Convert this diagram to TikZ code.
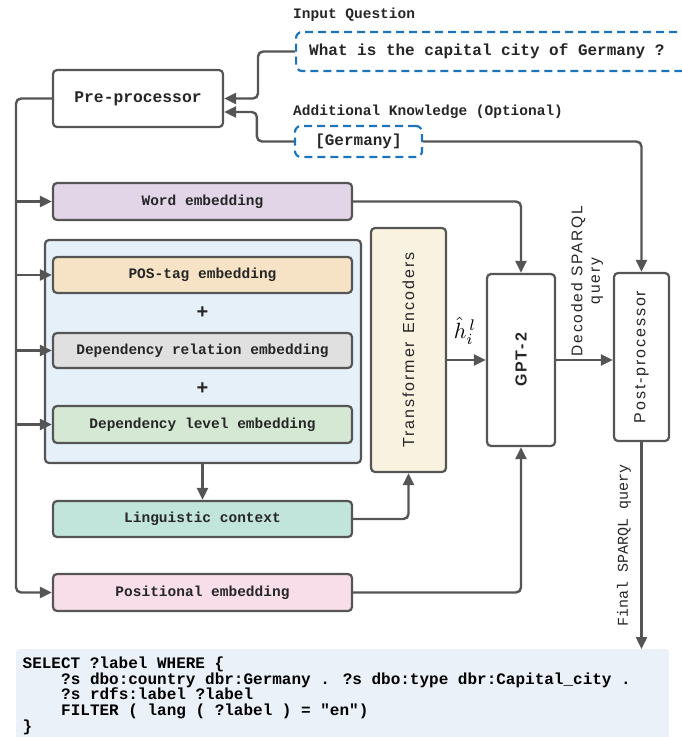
\documentclass[tikz,border=0pt]{standalone}
\usepackage{fontspec}
\usepackage{graphicx}
\setmainfont{Liberation Sans}
\newfontfamily\mono{Liberation Mono}
\newfontfamily\sansls[LetterSpace=12]{Liberation Sans}
\usetikzlibrary{arrows.meta}
\definecolor{ln}{HTML}{555555}
\definecolor{dblue}{HTML}{1C75BC}
\definecolor{wordc}{HTML}{E1D5E7}
\definecolor{posc}{HTML}{F6E3C6}
\definecolor{relc}{HTML}{E0E0E0}
\definecolor{levc}{HTML}{D5E8D4}
\definecolor{lingc}{HTML}{C2E5DB}
\definecolor{pembc}{HTML}{F8DEE8}
\definecolor{contc}{HTML}{E6F0F9}
\definecolor{transc}{HTML}{FAF2E1}
\definecolor{codec}{HTML}{EAF1F8}
\tikzset{
  boxst/.style={draw=ln, line width=2.2pt, rounded corners=4pt, inner sep=0pt, fill=white,
    font=\mono\bfseries\fontsize{14.5}{16}\selectfont, text=black!85},
  dashbox/.style={draw=dblue, line width=2.2pt, rounded corners=6pt, inner sep=0pt,
    dash pattern=on 8pt off 5pt},
  conn/.style={draw=ln, line width=2.4pt, rounded corners=5pt,
    -{Triangle[length=12pt,width=11pt]}},
  monolab/.style={font=\mono\bfseries\fontsize{14.5}{16}\selectfont, text=black!85, inner sep=0pt},
  rotlab/.style={rotate=90, inner sep=0pt, text=black!85, font=\sansls\fontsize{16}{17}\selectfont},
  codeln/.style={anchor=base west, inner sep=0pt, font=\mono\bfseries\fontsize{16}{16}\selectfont}
}
\begin{document}
\begin{tikzpicture}[x=1pt,y=-1pt]
\useasboundingbox (0,0) rectangle (681,737);

% top inputs
\node[monolab, anchor=west] (iqlab) at (293,15) {Input Question};
\node[dashbox, minimum width=400pt, minimum height=39pt, anchor=west] (inq) at (295,51.5) {};
\node[monolab, anchor=west, font=\mono\bfseries\fontsize{16}{18}\selectfont] (inqt) at (309,51.5) {What is the capital city of Germany ?};
\node[monolab, anchor=west] (aklab) at (293,112) {Additional Knowledge (Optional)};
\node[dashbox, minimum width=127pt, minimum height=31pt, font=\mono\bfseries\fontsize{16}{18}\selectfont, text=black!85] (germ) at (358.5,141.5) {[Germany]};

% pre-processor
\node[boxst, minimum width=170pt, minimum height=57pt, font=\mono\bfseries\fontsize{16.3}{18}\selectfont] (pre) at (138,98.5) {Pre-processor};

% embeddings
\node[boxst, fill=wordc, minimum width=299pt, minimum height=37pt] (word) at (202.5,201.5) {Word embedding};
\node[boxst, fill=contc, minimum width=316pt, minimum height=223pt] (cont) at (203,351.5) {};
\node[boxst, fill=posc, minimum width=299pt, minimum height=36pt] (pos) at (202.5,275) {POS-tag embedding};
\node[font=\bfseries\fontsize{20}{20}\selectfont, text=black!85, inner sep=0pt] (plus1) at (202.5,313) {+};
\node[boxst, fill=relc, minimum width=299pt, minimum height=35pt] (rel) at (202.5,350.5) {Dependency relation embedding};
\node[font=\bfseries\fontsize{20}{20}\selectfont, text=black!85, inner sep=0pt] (plus2) at (202.5,389) {+};
\node[boxst, fill=levc, minimum width=299pt, minimum height=37pt] (lev) at (202.5,424.5) {Dependency level embedding};
\node[boxst, fill=lingc, minimum width=299pt, minimum height=36pt] (ling) at (202.5,519) {Linguistic context};
\node[boxst, fill=pembc, minimum width=299pt, minimum height=37pt] (pemb) at (202.5,592.5) {Positional embedding};

% transformer, gpt, post
\node[boxst, fill=transc, minimum width=75pt, minimum height=244pt] (trans) at (408.5,350) {};
\node[rotlab] (transt) at (trans.center) {Transformer\hspace{8pt}Encoders};
\node[boxst, minimum width=68pt, minimum height=172pt] (gpt) at (521,360) {};
\node[rotlab, font=\sansls\bfseries\fontsize{16}{17}\selectfont] (gptt) at (gpt.center) {GPT-2};
\node[boxst, minimum width=55pt, minimum height=168pt] (post) at (641.5,357) {};
\node[rotlab] (postt) at (post.center) {Post-processor};

% code block
\node[fill=codec, anchor=north west, minimum width=653pt, minimum height=100pt, inner sep=0pt, rounded corners=3pt] (code) at (16,649) {};
\node[codeln] (c1) at (22.5,668.3) {SELECT ?label WHERE \{};
\node[codeln] (c2) at (61,684) {?s dbo:country dbr:Germany . ?s dbo:type dbr:Capital\_city .};
\node[codeln] (c3) at (61,699.5) {?s rdfs:label ?label};
\node[codeln] (c4) at (61,715.5) {FILTER ( lang ( ?label ) = "en")};
\node[codeln] (c5) at (22.5,731) {\}};

% labels
\node[inner sep=0pt] (hl) at (465,331) {\scalebox{2.2}{$\hat{h}_{i}^{\,l}$}};
\node[rotlab, align=center, font=\sansls\fontsize{15.5}{17.5}\selectfont] (dec) at (587,281) {Decoded\hspace{6pt}SPARQL\\query};
\node[rotlab, font=\mono\fontsize{15}{16}\selectfont] (fin) at (624,545) {Final\hspace{9pt}SPARQL\hspace{9pt}query};

% connectors
\coordinate (spine) at (16,98.5);
\draw[conn] (inq.west) -- ++(-37,0) |- (pre.east);
\draw[conn] (germ.west) -- ++(-37,0) |- ([yshift=-13.5pt]pre.east);
\draw[conn] (germ.east) -| (post.north);
\draw[conn] (pre.west) -- (spine) |- (pemb.west);
\draw[conn] (spine |- word.west) -- (word.west);
\draw[conn] (spine |- pos.west) -- (pos.west);
\draw[conn] (spine |- rel.west) -- (rel.west);
\draw[conn] (spine |- lev.west) -- (lev.west);
\draw[conn] (word.east) -| (gpt.north);
\draw[conn] (cont.south -| ling.north) -- (ling.north);
\draw[conn] (ling.east) -| (trans.south);
\draw[conn] (pemb.east) -| (gpt.south);
\draw[conn] (trans.east |- gpt.west) -- (gpt.west);
\draw[conn] (gpt.east) -- (gpt.east -| post.west);
\draw[conn] (post.south) -- (post.south |- code.north);
\end{tikzpicture}
\end{document}
